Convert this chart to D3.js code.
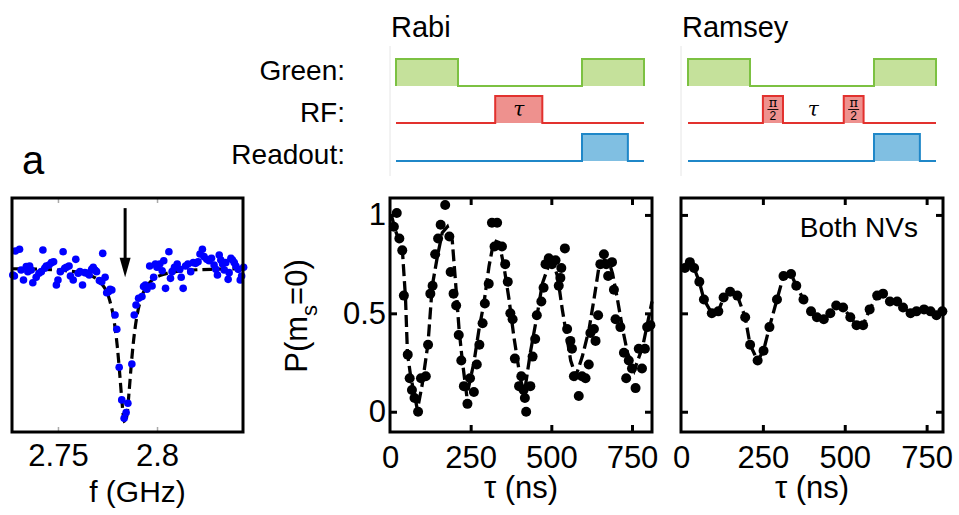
<!DOCTYPE html>
<html><head><meta charset="utf-8">
<script src="https://cdn.jsdelivr.net/npm/d3@7"></script>
<style>
body{margin:0;background:#fff}
svg{display:block}
text{font-family:"Liberation Sans",Arial,Helvetica,sans-serif;fill:#000}
</style>
</head><body>
<svg id="chart" width="959" height="515"></svg>
<script>
// ---------------- DATA ----------------
// ODMR spectrum (panel a, left)
const odmrFreq = [2.7285,2.7306,2.7272,2.7280,2.7326,2.7314,2.7340,2.7357,2.7365,2.7348,2.7373,2.7390,2.7404,2.7416,2.7424,2.7433,2.7441,2.7455,2.7467,2.7478,2.7492,2.7500,2.7512,2.7526,2.7534,2.7543,2.7556,2.7563,2.7577,2.7590,2.7602,2.7611,2.7624,2.7636,2.7648,2.7658,2.7670,2.7678,2.7687,2.7695,2.7709,2.7721,2.7726,2.7738,2.7746,2.7755,2.7763,2.7772,2.7788,2.7797,2.7809,2.7822,2.7834,2.7844,2.7853,2.7873,2.7885,2.7894,2.7907,2.7924,2.7932,2.7941,2.7949,2.7963,2.7975,2.7983,2.7992,2.8000,2.8014,2.8026,2.8034,2.8043,2.8060,2.8068,2.8076,2.8088,2.8102,2.8115,2.8122,2.8132,2.8144,2.8156,2.8170,2.8183,2.8195,2.8207,2.8217,2.8229,2.8237,2.8251,2.8263,2.8275,2.8288,2.8297,2.8305,2.8314,2.8322,2.8331,2.8339,2.8347,2.8359,2.8364,2.8373,2.8381,2.8390,2.8398,2.8410,2.8420,2.8427,2.8437];
const odmrSignal = [1.0165,1.0181,0.9932,0.9923,0.9884,0.9981,1.0013,1.0020,0.9981,0.9965,0.9858,0.9910,0.9949,0.9965,1.0174,0.9997,1.0020,1.0029,1.0052,1.0061,0.9836,0.9884,0.9965,1.0158,0.9997,1.0007,1.0020,0.9923,0.9884,1.0084,0.9949,0.9965,0.9836,0.9955,0.9949,0.9932,0.9987,1.0007,0.9981,0.9965,0.9878,0.9868,1.0142,0.9910,0.9761,0.9771,0.9794,0.9787,0.9545,0.9407,0.9039,0.8723,0.8545,0.8600,0.8690,0.9071,0.9545,0.9642,0.9707,0.9723,0.9820,0.9836,0.9794,1.0020,0.9826,0.9910,1.0039,1.0007,1.0039,0.9974,1.0071,0.9803,1.0158,0.9900,0.9965,1.0007,1.0039,0.9987,0.9910,0.9803,1.0020,1.0039,0.9965,1.0052,1.0045,1.0061,1.0136,1.0181,1.0110,1.0084,1.0071,1.0094,1.0029,0.9987,0.9932,1.0126,1.0078,1.0039,0.9981,1.0052,0.9890,0.9955,1.0094,1.0078,1.0052,1.0020,0.9987,0.9884,0.9923,1.0007];
// Lorentzian fit curve
const odmrFitFreq = [2.7268,2.7400,2.7550,2.7650,2.7720,2.7760,2.7780,2.7800,2.7810,2.7820,2.7830,2.7839,2.7850,2.7860,2.7870,2.7880,2.7900,2.7920,2.7960,2.8030,2.8150,2.8300,2.8434];
const odmrFitSignal = [0.9993,0.9988,0.9972,0.9936,0.9848,0.9694,0.9528,0.9231,0.9017,0.8776,0.8572,0.8500,0.8605,0.8824,0.9063,0.9268,0.9549,0.9706,0.9852,0.9937,0.9976,0.9989,0.9993];
const odmrArrowFreq = 2.7839;
const odmrTicks = [2.75, 2.8];

// Rabi (middle)
const rabiTau = [12,21,29,38,43,55,61,68,76,87,96,111,118,125,132,140,149,157,171,184,188,197,205,213,221,229,240,248,260,269,277,287,294,306,316,324,332,347,357,365,373,380,387,400,407,414,418,422,435,442,450,455,469,476,482,492,502,513,523,528,531,542,549,559,564,570,585,595,606,616,621,632,637,645,652,663,670,676,688,694,699,714,725,732,740,750,761,771,781,790,797,807];
const rabiP = [0.94,1.01,0.88,0.82,0.59,0.29,0.17,0.11,0.07,0.00,0.17,0.18,0.34,0.60,0.64,0.80,0.88,0.95,1.05,0.89,0.71,0.60,0.54,0.39,0.26,0.13,0.04,0.17,0.10,0.24,0.34,0.45,0.55,0.65,0.96,0.84,0.96,0.84,0.75,0.66,0.50,0.47,0.27,0.13,0.18,0.11,0.07,0.00,0.13,0.28,0.37,0.49,0.56,0.63,0.75,0.78,0.75,0.77,0.64,0.68,0.73,0.83,0.42,0.36,0.32,0.18,0.08,0.18,0.17,0.24,0.40,0.42,0.36,0.49,0.75,0.80,0.75,0.69,0.76,0.62,0.47,0.43,0.30,0.17,0.26,0.22,0.12,0.32,0.22,0.32,0.43,0.44];
// Rabi fit (dashed line)
const rabiFitTau = [4,17,38,48,54,64,85,100,118,131,147,162,178,193,204,214,224,238,260,276,291,307,322,338,353,369,384,400,415,436,457,472,493,509,519,534,550,560,576,596,617,633,648,664,679,690,705,721,736,757,783,812];
const rabiFitP = [1.00,0.92,0.83,0.58,0.30,0.18,0.01,0.14,0.35,0.64,0.79,0.91,0.94,0.87,0.64,0.42,0.26,0.08,0.25,0.42,0.55,0.74,0.87,0.86,0.74,0.57,0.38,0.21,0.08,0.31,0.50,0.65,0.75,0.74,0.69,0.52,0.36,0.26,0.18,0.28,0.42,0.58,0.74,0.77,0.76,0.70,0.57,0.42,0.30,0.21,0.33,0.56];

// Ramsey (right)
const ramseyTau = [12,27,40,56,70,94,114,130,150,172,196,211,234,252,270,293,313,336,352,374,397,415,436,456,474,495,517,536,556,576,599,617,638,660,678,701,719,742,762,780,798];
const ramseyP = [0.73,0.76,0.73,0.66,0.57,0.50,0.51,0.58,0.61,0.59,0.48,0.34,0.26,0.31,0.43,0.57,0.69,0.70,0.64,0.57,0.51,0.48,0.47,0.50,0.54,0.53,0.48,0.44,0.44,0.52,0.59,0.60,0.56,0.56,0.53,0.50,0.51,0.52,0.51,0.49,0.51];

const tauTicks = [0, 250, 500, 750];
const pTicks = [0, 0.5, 1];

// Pulse sequences (schematic time, 0-100)
const channelNames = ["Green:", "RF:", "Readout:"];
const rabiGreen = [[0,25],[75,100]];
const rabiRF = [[40,59]];
const rabiReadout = [[75,93.5]];
const ramseyGreen = [[0,25],[75,100]];
const ramseyRF = [[30.2,38.3],[62.8,70.8]];
const ramseyReadout = [[75,93.5]];

// ---------------- DRAW ----------------
const svg = d3.select("#chart");
const FS = 28;   // diagram labels
const TS = 31;   // tick labels and axis titles

// ---- pulse diagrams ----
const rowY = [{lo:86, hi:59}, {lo:123, hi:96}, {lo:161, hi:134}];
const chanStroke = ["#7cc142", "#e2312e", "#1f87c8"];
const chanFill = ["#c5e19b", "#ee918e", "#80bfe2"];

channelNames.forEach((n, i) => {
  svg.append("text").attr("x", 345).attr("y", [80,122,164][i])
    .attr("text-anchor", "end").attr("font-size", FS).text(n);
});

function drawSeq(x0, x1, chans, title, sepX) {
  const s = d3.scaleLinear().domain([0, 100]).range([x0, x1]);
  svg.append("line").attr("x1", sepX).attr("x2", sepX).attr("y1", 46).attr("y2", 176)
    .attr("stroke", "#e6e6e6").attr("stroke-width", 1);
  svg.append("text").attr("x", sepX + 1).attr("y", 37).attr("font-size", 29).text(title);
  chans.forEach((pulses, i) => {
    const r = rowY[i];
    const g = svg.append("g");
    pulses.forEach(p => {
      g.append("rect").attr("x", s(p[0])).attr("y", r.hi).attr("width", s(p[1]) - s(p[0]))
        .attr("height", r.lo - r.hi).attr("fill", chanFill[i]);
    });
    const pts = [[0, r.lo]];
    pulses.forEach(p => { pts.push([p[0], r.lo], [p[0], r.hi], [p[1], r.hi], [p[1], r.lo]); });
    pts.push([100, r.lo]);
    g.append("path").attr("d", d3.line().x(d => s(d[0])).y(d => d[1])(pts))
      .attr("fill", "none").attr("stroke", chanStroke[i]).attr("stroke-width", 2);
  });
  return s;
}
const sR = drawSeq(396, 644, [rabiGreen, rabiRF, rabiReadout], "Rabi", 390);
const sM = drawSeq(688, 936, [ramseyGreen, ramseyRF, ramseyReadout], "Ramsey", 681);

// tau labels inside pulse diagrams
svg.append("text").attr("x", sR((rabiRF[0][0] + rabiRF[0][1]) / 2)).attr("y", 116)
  .attr("text-anchor", "middle").attr("font-size", 20).attr("font-style", "italic")
  .style("font-family", "DejaVu Serif, serif").text("τ");
svg.append("text").attr("x", sM((ramseyRF[0][1] + ramseyRF[1][0]) / 2)).attr("y", 116)
  .attr("text-anchor", "middle").attr("font-size", 20).attr("font-style", "italic")
  .style("font-family", "DejaVu Serif, serif").text("τ");
ramseyRF.forEach(p => {
  const cx = sM((p[0] + p[1]) / 2);
  svg.append("text").attr("x", cx).attr("y", 107).attr("text-anchor", "middle")
    .attr("font-size", 13).style("font-family", "DejaVu Serif, serif").text("π");
  svg.append("line").attr("x1", cx - 5.5).attr("x2", cx + 5.5).attr("y1", 109.5).attr("y2", 109.5)
    .attr("stroke", "#000").attr("stroke-width", 0.9);
  svg.append("text").attr("x", cx).attr("y", 120).attr("text-anchor", "middle")
    .attr("font-size", 12).text("2");
});

// "a" label
svg.append("text").attr("x", 22).attr("y", 174).attr("font-size", 40).text("a");

// ---- panel helpers ----
function frame(x0, x1, y0, y1) {
  svg.append("rect").attr("x", x0).attr("y", y0).attr("width", x1 - x0).attr("height", y1 - y0)
    .attr("fill", "none").attr("stroke", "#000").attr("stroke-width", 3);
}
function styleAxis(g, color, width) {
  g.select(".domain").remove();
  g.selectAll(".tick line").attr("stroke", color).attr("stroke-width", width);
  g.selectAll(".tick text").attr("font-size", TS).attr("fill", "#000")
    .style("font-family", "Liberation Sans, Arial, sans-serif");
}

// ---- left panel: ODMR ----
const L = {x0: 12, x1: 243, y0: 198, y1: 432};
const xL = d3.scaleLinear().domain([2.7268, 2.8434]).range([L.x0, L.x1]);
const yL = d3.scaleLinear().domain([0.8412, 1.0678]).range([L.y1, L.y0]);

const axLb = svg.append("g").attr("transform", `translate(0,${L.y1})`)
  .call(d3.axisBottom(xL).tickValues(odmrTicks).tickSizeInner(-5).tickSizeOuter(0).tickPadding(12)
    .tickFormat(d3.format("")));
styleAxis(axLb, "#aaa", 1.5);
const axLt = svg.append("g").attr("transform", `translate(0,${L.y0})`)
  .call(d3.axisTop(xL).tickValues(odmrTicks).tickSizeInner(-5).tickSizeOuter(0).tickFormat(""));
styleAxis(axLt, "#aaa", 1.5);

svg.append("path")
  .attr("d", d3.line().x((d, i) => xL(odmrFitFreq[i])).y((d, i) => yL(odmrFitSignal[i])).curve(d3.curveMonotoneX)(odmrFitFreq))
  .attr("fill", "none").attr("stroke", "#000").attr("stroke-width", 3.2).attr("stroke-dasharray", "10,5");

svg.append("g").selectAll("circle").data(odmrFreq).join("circle")
  .attr("cx", d => xL(d)).attr("cy", (d, i) => yL(odmrSignal[i])).attr("r", 3.8).attr("fill", "#0000ff");

// arrow
const ax = xL(odmrArrowFreq);
svg.append("line").attr("x1", ax).attr("x2", ax).attr("y1", yL(1.058)).attr("y2", yL(1.008))
  .attr("stroke", "#000").attr("stroke-width", 3);
svg.append("path").attr("d", `M${ax - 5.5},${yL(1.010)} L${ax + 5.5},${yL(1.010)} L${ax},${yL(0.991)} Z`).attr("fill", "#000");

frame(L.x0, L.x1, L.y0, L.y1);
svg.append("text").attr("x", (L.x0 + L.x1) / 2 + 10).attr("y", 502).attr("text-anchor", "middle")
  .attr("font-size", 30).text("f (GHz)");

// ---- data panels ----
function dataPanel(P) {
  const x = d3.scaleLinear().domain([0, P.tmax]).range([P.x0, P.x1]);
  const y = d3.scaleLinear().domain([-0.103, 1.086]).range([432, 198]);
  const gb = svg.append("g").attr("transform", "translate(0,432)")
    .call(d3.axisBottom(x).tickValues(tauTicks).tickSizeInner(-7).tickSizeOuter(0).tickPadding(14));
  styleAxis(gb, "#000", 3);
  gb.selectAll(".tick").filter(d => d === 0).select("line").remove();
  const gt = svg.append("g").attr("transform", "translate(0,198)")
    .call(d3.axisTop(x).tickValues(tauTicks.filter(d => d > 0)).tickSizeInner(-7).tickSizeOuter(0).tickFormat(""));
  styleAxis(gt, "#000", 3);
  const gl = svg.append("g").attr("transform", `translate(${P.x0},0)`)
    .call(d3.axisLeft(y).tickValues(pTicks).tickSizeInner(-7).tickSizeOuter(0).tickPadding(4)
      .tickFormat(P.yLabels ? d3.format("") : ""));
  styleAxis(gl, "#000", 3);
  const gr = svg.append("g").attr("transform", `translate(${P.x1},0)`)
    .call(d3.axisRight(y).tickValues(pTicks).tickSizeInner(-7).tickSizeOuter(0).tickFormat(""));
  styleAxis(gr, "#000", 3);

  svg.append("path")
    .attr("d", d3.line().x((d, i) => x(P.lineT[i])).y((d, i) => y(P.lineP[i]))(P.lineT))
    .attr("fill", "none").attr("stroke", "#000").attr("stroke-width", 3.3)
    .attr("stroke-dasharray", "12,5");
  svg.append("g").selectAll("circle").data(P.t).join("circle")
    .attr("cx", d => x(d)).attr("cy", (d, i) => y(P.p[i])).attr("r", 5).attr("fill", "#000");
  frame(P.x0, P.x1, 198, 432);
  svg.append("text").attr("x", (P.x0 + P.x1) / 2).attr("y", 498).attr("text-anchor", "middle")
    .attr("font-size", TS).text("τ (ns)");
}
dataPanel({x0: 390, x1: 652, tmax: 812, t: rabiTau, p: rabiP, lineT: rabiFitTau, lineP: rabiFitP, yLabels: true});
dataPanel({x0: 681, x1: 943, tmax: 800, t: ramseyTau, p: ramseyP, lineT: ramseyTau, lineP: ramseyP, yLabels: false});

svg.append("text").attr("x", 918).attr("y", 237).attr("text-anchor", "end")
  .attr("font-size", FS).text("Both NVs");

// y label
const yl = svg.append("text").attr("transform", "translate(307,316) rotate(-90)")
  .attr("text-anchor", "middle").attr("font-size", TS);
yl.append("tspan").text("P(m");
yl.append("tspan").attr("font-size", 22).attr("dy", 10).text("s");
yl.append("tspan").attr("dy", -10).text("=0)");
</script>
</body></html>
